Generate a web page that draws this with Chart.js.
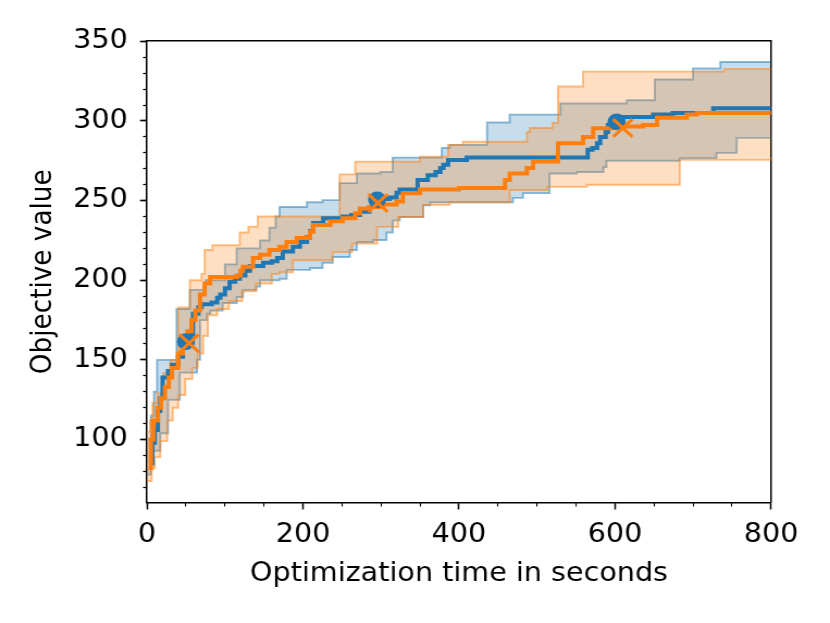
<!DOCTYPE html>
<html><head><meta charset="utf-8">
<script src="https://cdn.jsdelivr.net/npm/chart.js@4.4.1/dist/chart.umd.min.js"></script>
<style>
html,body{margin:0;padding:0;background:#fff;overflow:hidden;width:830px;height:623px}
#wrap{width:763px;height:623px;transform:scaleX(1.0878);transform-origin:0 0}
</style>
</head><body>
<div id="wrap"><canvas id="c" width="763" height="623"></canvas></div>
<script>
// ---- data (seconds, objective value) ----
const blueMeanX = [3,7,10,14,17,20,27,32,40,46,52,55,59,66,70,83,90,94,100,106,113,119,126,132,149,160,167,174,187,196,205,209,213,226,251,262,273,285,292,300,311,320,324,347,360,370,376,380,386,410,565,571,577,581,588,591,603,610,649,674,726,800];
const blueMeanY = [85,98,106,118,126,139,143,147,152,158,162,166,179,183,185,186,189,191,195,199,201,203,206,209,211,212,214,218,221,224,227,231,236,239,240,241,243,246,249,251,252,255,257,263,266,268,270.5,272.5,275.5,277,282,283,286,290,293,297.5,300,302.5,304,305,308,308];
const blueUpperX = [0,5,9,13,38,55,75,100,115,145,157,165,170,205,225,247,269,299,315,378,388,436,465,530,615,651,700,735,800];
const blueUpperY = [100,115,130,150,182,194,200,210,220,225,233,240,246,249,250.3,261,267,268,277,283,285,299,304,311,313,326,333,337,337];
const blueLowerX = [0,5,8,17,27,42,64,68,77,81,97,115,123,140,145,170,179,209,225,238,260,269,290,307,315,324,354,363,469,482,516,551,585,589,683,730,756,800];
const blueLowerY = [78,88,93,104,125,142,150,175,179,181,185.7,189.5,194,196,200,201,206.5,207.7,211,214.6,219,224,225.3,230,237.6,239.7,247,249,251.7,254.7,267,268,271,275,276.7,280,289.4,289.4];

const orangeMeanX = [2,5,8,14,18,23,28,32,40,46,52,57,62,68,74,81,115,120,123,136,145,157,170,179,192,209,213,235,251,267,273,286,303,320,328,350,400,459,465,487,495,527,559,572,606,636,654,692,705,800];
const orangeMeanY = [82,100,112,120,126,133,139,145,154,162,168,175,181,191,198,202,203,206,208.5,214,216,219,221,224,226.5,230.5,234.7,237,239,242,245,246,247.5,249.4,254.6,257,258,263,267,270.5,274.5,286,290,295.5,296.5,297.5,302,304,305,305];
const orangeUpperX = [0,4,7,13,21,30,40,55,70,74,84,119,130,142,247,267,350,386,405,487,491,520,527,559,740,800];
const orangeUpperY = [105,112,123,129,141.6,150,183,200,204,219,222,230,233.6,240,266.5,274.5,277.6,285,287,293,295.6,298.8,321.6,331,332.7,332.7];
const orangeLowerX = [0,6,10,17,26,33,40,49,58,65,72,78,90,105,122,140,160,170,187,238,263,295,322,354,388,465,513,564,683,800];
const orangeLowerY = [74,82,89,99,112,120,128,138,145,154,165,178,182,187,193,198,204,205,212.6,217.7,223,233.5,239.7,247.3,249,256.7,258.6,260,275.6,277];

const blueMarkX = [50,295,602];
const blueMarkY = [161.5,250.5,299.5];
const orangeMarkX = [54,296,610];
const orangeMarkY = [160.5,248.5,295.6];

const xMajorStep = 200, xMinorStep = 50, yMajorStep = 50, yMinorStep = 10;
const xMin = 0, xMax = 800, yMin = 60.5, yMax = 350.2;
const xTitle = 'Optimization time in seconds';
const yTitle = 'Objective value';

// ---- build ----
const pts = (xs, ys) => xs.map((x, i) => ({x, y: ys[i]}));
const BLUE = '#1f77b4', ORANGE = '#ff7f0e';
const blueFill = 'rgba(31,119,180,0.25)', blueEdge = 'rgba(31,119,180,0.5)';
const orangeFill = 'rgba(255,127,14,0.25)', orangeEdge = 'rgba(255,127,14,0.5)';
const FONT = {family: 'DejaVu Sans', size: 26.3};

const stepLine = (data, color, width, order, extra) => Object.assign({
  type: 'line', data, borderColor: color, borderWidth: width, stepped: true,
  pointRadius: 0, pointHoverRadius: 0, fill: false, order, borderJoinStyle: 'miter'
}, extra || {});

const datasets = [
  stepLine(pts(blueUpperX, blueUpperY), blueEdge, 1.9, 60, {fill: 1, backgroundColor: blueFill}),
  stepLine(pts(blueLowerX, blueLowerY), blueEdge, 1.9, 59),
  stepLine(pts(orangeUpperX, orangeUpperY), orangeEdge, 1.9, 50, {fill: 3, backgroundColor: orangeFill}),
  stepLine(pts(orangeLowerX, orangeLowerY), orangeEdge, 1.9, 49),
  stepLine(pts(blueMeanX, blueMeanY), BLUE, 4, 40),
  stepLine(pts(orangeMeanX, orangeMeanY), ORANGE, 4, 30),
  {type: 'line', data: pts(blueMarkX, blueMarkY), showLine: false, pointStyle: 'circle',
   pointRadius: 8.3, pointBackgroundColor: BLUE, pointBorderWidth: 0, borderColor: BLUE, order: 20, clip: false},
  {type: 'line', data: pts(orangeMarkX, orangeMarkY), showLine: false, pointStyle: 'crossRot',
   pointRadius: 12.5, pointBorderColor: ORANGE, pointBorderWidth: 3, borderColor: ORANGE, order: 10, clip: false}
];

const tickGrid = (len, w) => ({display: true, drawOnChartArea: false, drawTicks: true,
  tickLength: len, tickWidth: w, tickColor: '#000'});

new Chart(document.getElementById('c'), {
  data: {datasets},
  options: {
    responsive: false, animation: false, devicePixelRatio: 1,
    layout: {padding: {top: 41, right: 54.2, left: 0, bottom: 0}},
    plugins: {legend: {display: false}, tooltip: {enabled: false}},
    scales: {
      x: {type: 'linear', position: 'bottom', weight: 1, min: xMin, max: xMax,
        ticks: {stepSize: xMajorStep, color: '#000', font: FONT, padding: 9.5, maxRotation: 0, autoSkip: false},
        grid: tickGrid(7, 1.5), border: {display: true, color: '#000', width: 1.6},
        title: {display: true, text: xTitle, color: '#000', font: FONT, padding: {top: 0, bottom: 33}},
        afterFit: s => { s.height = 120.5; }},
      xMinor: {type: 'linear', position: 'bottom', weight: 0, min: xMin, max: xMax,
        ticks: {display: false, stepSize: xMinorStep, autoSkip: false},
        grid: tickGrid(4, 1.1), border: {display: false},
        afterFit: s => { s.height = 0; }},
      xTop: {type: 'linear', position: 'top', min: xMin, max: xMax,
        ticks: {display: false}, grid: {display: false}, border: {display: true, color: '#000', width: 1.6},
        afterFit: s => { s.height = 0; }},
      y: {type: 'linear', position: 'left', weight: 1, min: yMin, max: yMax,
        ticks: {stepSize: yMajorStep, includeBounds: false, color: '#000', font: FONT, padding: 11.3, autoSkip: false},
        grid: tickGrid(6.4, 1.6), border: {display: true, color: '#000', width: 1.5},
        title: {display: true, text: yTitle, color: '#000', font: FONT, padding: {top: 24.5, bottom: 0}},
        afterFit: s => { s.width = 135.1; }},
      yMinor: {type: 'linear', position: 'left', weight: 0, min: yMin, max: yMax,
        ticks: {display: false, stepSize: yMinorStep, includeBounds: false, autoSkip: false},
        grid: tickGrid(3.7, 1.2), border: {display: false},
        afterFit: s => { s.width = 0; }},
      yRight: {type: 'linear', position: 'right', min: yMin, max: yMax,
        ticks: {display: false}, grid: {display: false}, border: {display: true, color: '#000', width: 1.5},
        afterFit: s => { s.width = 0; }}
    }
  }
});
</script>
</body></html>
